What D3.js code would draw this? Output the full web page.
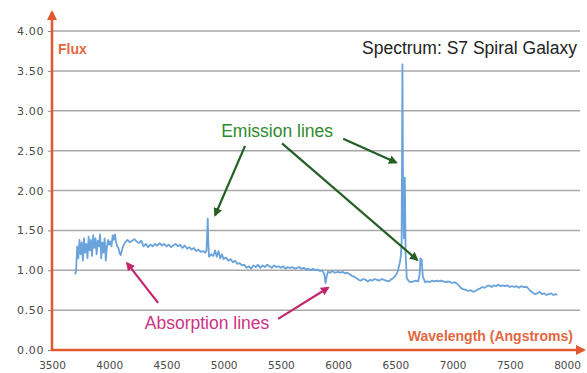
<!DOCTYPE html>
<html>
<head>
<meta charset="utf-8">
<script src="https://cdn.jsdelivr.net/npm/d3@7"></script>
<style>
  html, body { margin: 0; padding: 0; background: #fff; }
  svg { display: block; }
</style>
</head>
<body>
<div id="chart"></div>
<script>
// Spectrum samples (wavelength in Angstroms, flux)
const wavelengths = [
  3700, 3710, 3720, 3730, 3740, 3750, 3760, 3770, 3780, 3790,
  3800, 3810, 3820, 3830, 3840, 3850, 3860, 3870, 3880, 3890,
  3900, 3910, 3920, 3930, 3940, 3950, 3960, 3970, 3980, 3990,
  4000, 4010, 4020, 4030, 4040, 4050, 4060, 4070, 4080, 4090,
  4100, 4110, 4120, 4140, 4160, 4180, 4200, 4220, 4240, 4260,
  4280, 4300, 4320, 4340, 4360, 4380, 4400, 4420, 4440, 4460,
  4480, 4500, 4520, 4540, 4560, 4580, 4600, 4620, 4640, 4660,
  4680, 4700, 4720, 4740, 4760, 4780, 4800, 4820, 4840, 4850,
  4856, 4861, 4866, 4872, 4890, 4910, 4925, 4940, 4955, 4970,
  4985, 5000, 5020, 5040, 5060, 5080, 5100, 5120, 5140, 5160,
  5180, 5200, 5220, 5240, 5260, 5280, 5300, 5320, 5340, 5360,
  5380, 5400, 5420, 5440, 5460, 5480, 5500, 5520, 5540, 5560,
  5580, 5600, 5620, 5640, 5660, 5680, 5700, 5720, 5740, 5760,
  5780, 5800, 5820, 5840, 5860, 5880, 5890, 5900, 5910, 5930,
  5950, 5970, 6000, 6020, 6040, 6060, 6080, 6100, 6120, 6140,
  6160, 6180, 6200, 6220, 6240, 6260, 6280, 6300, 6320, 6340,
  6360, 6380, 6400, 6420, 6440, 6460, 6480, 6500, 6520, 6540,
  6548, 6555, 6562, 6568, 6575, 6583, 6590, 6600, 6620, 6640,
  6660, 6680, 6700, 6712, 6720, 6730, 6740, 6760, 6780, 6800,
  6820, 6840, 6860, 6880, 6900, 6920, 6940, 6960, 6980, 7000,
  7020, 7040, 7060, 7080, 7100, 7120, 7140, 7160, 7180, 7200,
  7220, 7240, 7260, 7280, 7300, 7320, 7340, 7360, 7380, 7400,
  7420, 7440, 7460, 7480, 7500, 7520, 7540, 7560, 7580, 7600,
  7620, 7650, 7680, 7700, 7720, 7740, 7760, 7780, 7800, 7820,
  7840, 7860, 7880, 7900, 7915
];

const fluxValues = [
  0.95, 0.98, 1.30, 1.15, 1.38, 1.20, 1.35, 1.12, 1.40, 1.22,
  1.33, 1.15, 1.42, 1.25, 1.38, 1.18, 1.44, 1.28, 1.40, 1.20,
  1.37, 1.30, 1.45, 1.15, 1.35, 1.22, 1.40, 1.12, 1.30, 1.38,
  1.32, 1.36, 1.30, 1.44, 1.38, 1.45, 1.35, 1.30, 1.28, 1.22,
  1.19, 1.24, 1.30, 1.35, 1.38, 1.35, 1.37, 1.39, 1.36, 1.34,
  1.37, 1.30, 1.33, 1.29, 1.32, 1.30, 1.33, 1.31, 1.34, 1.31,
  1.33, 1.30, 1.32, 1.29, 1.31, 1.33, 1.30, 1.32, 1.28, 1.31,
  1.27, 1.29, 1.26, 1.28, 1.24, 1.26, 1.23, 1.24, 1.22, 1.25,
  1.45, 1.65, 1.35, 1.17, 1.20, 1.18, 1.25, 1.17, 1.24, 1.15,
  1.20, 1.14, 1.16, 1.12, 1.14, 1.10, 1.12, 1.08, 1.09, 1.06,
  1.07, 1.03, 1.05, 1.02, 1.06, 1.04, 1.07, 1.03, 1.06, 1.04,
  1.07, 1.05, 1.03, 1.06, 1.04, 1.05, 1.03, 1.05, 1.02, 1.04,
  1.03, 1.04, 1.02, 1.03, 1.04, 1.02, 1.03, 1.01, 1.02, 1.00,
  1.02, 1.00, 1.01, 0.99, 1.00, 0.95, 0.84, 0.92, 0.98, 0.97,
  0.99, 0.97, 0.98, 0.97, 0.98, 0.96, 0.97, 0.95, 0.93, 0.92,
  0.90, 0.88, 0.87, 0.89, 0.88, 0.86, 0.88, 0.87, 0.89, 0.88,
  0.87, 0.89, 0.88, 0.87, 0.86, 0.88, 0.90, 0.93, 0.98, 1.10,
  1.18, 1.35, 3.58, 1.80, 1.40, 2.16, 1.20, 0.90, 0.86, 0.85,
  0.86, 0.87, 0.86, 0.95, 1.15, 1.13, 0.92, 0.85, 0.86, 0.85,
  0.87, 0.86, 0.87, 0.86, 0.87, 0.86, 0.85, 0.86, 0.85, 0.84,
  0.85, 0.83, 0.80, 0.77, 0.76, 0.75, 0.74, 0.75, 0.73, 0.74,
  0.76, 0.77, 0.79, 0.78, 0.80, 0.81, 0.79, 0.81, 0.80, 0.82,
  0.80, 0.81, 0.80, 0.81, 0.79, 0.80, 0.79, 0.80, 0.78, 0.80,
  0.79, 0.79, 0.74, 0.72, 0.70, 0.71, 0.73, 0.70, 0.71, 0.69,
  0.70, 0.71, 0.69, 0.70, 0.69
];

const xTicks = [3500, 4000, 4500, 5000, 5500, 6000, 6500, 7000, 7500, 8000];
const yTicks = [0, 0.5, 1, 1.5, 2, 2.5, 3, 3.5, 4];

// Annotation arrows, in data coordinates: [fromWavelength, fromFlux, toWavelength, toFlux]
const emissionArrows = [
  [5187, 2.56, 4925, 1.69],
  [6044, 2.65, 6507, 2.35],
  [5510, 2.59, 6691, 1.13]
];
const absorptionArrows = [
  [4427, 0.59, 4156, 1.09],
  [5476, 0.39, 5913, 0.78]
];

const width = 587, height = 373;
const left = 52, gridRight = 580;

const svg = d3.select('#chart')
  .append('svg')
  .attr('width', width)
  .attr('height', height);

const x = d3.scaleLinear().domain([3500, 8000]).range([left, 567]);
const y = d3.scaleLinear().domain([0, 4]).range([350, 31]);

const axisColor = '#e0582e';

// Arrow markers
const defs = svg.append('defs');
function marker(id, color) {
  defs.append('marker')
    .attr('id', id)
    .attr('viewBox', '0 0 10 10')
    .attr('refX', 8).attr('refY', 5)
    .attr('markerWidth', 4).attr('markerHeight', 4)
    .attr('markerUnits', 'strokeWidth')
    .attr('orient', 'auto')
    .append('path')
    .attr('d', 'M0,0 L10,5 L0,10 Z')
    .attr('fill', color);
}
marker('greenHead', '#245f24');
marker('pinkHead', '#c4256e');
marker('axisHead', axisColor);

// Grid lines
svg.append('g')
  .selectAll('line')
  .data(yTicks.filter(d => d > 0))
  .enter().append('line')
  .attr('x1', left).attr('x2', gridRight)
  .attr('y1', d => y(d)).attr('y2', d => y(d))
  .attr('stroke', '#a8a8a8')
  .attr('stroke-width', 1.5);

// Y axis labels + small ticks
const yAxis = svg.append('g')
  .attr('transform', `translate(${left},0)`)
  .call(d3.axisLeft(y).tickValues(yTicks).tickFormat(d3.format('.2f')).tickSize(4).tickPadding(4));
yAxis.select('.domain').remove();
yAxis.selectAll('line').attr('stroke', '#888');
yAxis.selectAll('text')
  .style('fill', '#4a4a4a')
  .style('font-family', 'DejaVu Sans, sans-serif')
  .style('font-size', '11px')
  .style('letter-spacing', '0.6px');

// X axis labels
const xAxis = svg.append('g')
  .attr('transform', `translate(0,${y(0)})`)
  .call(d3.axisBottom(x).tickValues(xTicks).tickFormat(d3.format('d')).tickSize(0).tickPadding(12));
xAxis.select('.domain').remove();
xAxis.selectAll('text')
  .style('fill', '#4a4a4a')
  .style('font-family', 'DejaVu Sans, sans-serif')
  .style('font-size', '10.5px');

// Spectrum line
const points = wavelengths.map((w, i) => [w, fluxValues[i]]);
svg.append('path')
  .datum(points)
  .attr('fill', 'none')
  .attr('stroke', '#6aa3dc')
  .attr('stroke-width', 1.8)
  .attr('stroke-linejoin', 'round')
  .attr('d', d3.line().x(d => x(d[0])).y(d => y(d[1])));

// Orange axes with arrows
svg.append('line')
  .attr('x1', left).attr('x2', left)
  .attr('y1', y(0) + 1).attr('y2', 12)
  .attr('stroke', axisColor).attr('stroke-width', 2.5)
  .attr('marker-end', 'url(#axisHead)');
svg.append('line')
  .attr('x1', left - 1).attr('x2', 584)
  .attr('y1', y(0)).attr('y2', y(0))
  .attr('stroke', axisColor).attr('stroke-width', 2.5)
  .attr('marker-end', 'url(#axisHead)');

// Axis titles
svg.append('text')
  .attr('x', left + 6).attr('y', y(3.77) + 5)
  .text('Flux')
  .style('fill', '#e2683f')
  .style('font-family', 'Liberation Sans, Arial, sans-serif')
  .style('font-weight', 'bold')
  .style('font-size', '14px');

svg.append('text')
  .attr('x', 573).attr('y', y(0.18) + 5)
  .attr('text-anchor', 'end')
  .text('Wavelength (Angstroms)')
  .style('fill', '#e2683f')
  .style('font-family', 'Liberation Sans, Arial, sans-serif')
  .style('font-weight', 'bold')
  .style('font-size', '14px');

// Chart title
svg.append('text')
  .attr('x', 577).attr('y', 54)
  .attr('text-anchor', 'end')
  .text('Spectrum: S7 Spiral Galaxy')
  .style('fill', '#222')
  .style('font-family', 'Liberation Sans, Arial, sans-serif')
  .style('font-size', '17.5px');

// Annotations
svg.append('text')
  .attr('x', x(5467)).attr('y', y(2.74) + 6)
  .attr('text-anchor', 'middle')
  .text('Emission lines')
  .style('fill', '#2f8a2f')
  .style('font-family', 'Liberation Sans, Arial, sans-serif')
  .style('font-size', '17.5px');

svg.append('text')
  .attr('x', x(4855)).attr('y', y(0.34) + 6)
  .attr('text-anchor', 'middle')
  .text('Absorption lines')
  .style('fill', '#cc3383')
  .style('font-family', 'Liberation Sans, Arial, sans-serif')
  .style('font-size', '17.5px');

svg.append('g')
  .selectAll('line')
  .data(emissionArrows)
  .enter().append('line')
  .attr('x1', d => x(d[0])).attr('y1', d => y(d[1]))
  .attr('x2', d => x(d[2])).attr('y2', d => y(d[3]))
  .attr('stroke', '#245f24').attr('stroke-width', 2.2)
  .attr('marker-end', 'url(#greenHead)');

svg.append('g')
  .selectAll('line')
  .data(absorptionArrows)
  .enter().append('line')
  .attr('x1', d => x(d[0])).attr('y1', d => y(d[1]))
  .attr('x2', d => x(d[2])).attr('y2', d => y(d[3]))
  .attr('stroke', '#c4256e').attr('stroke-width', 2.2)
  .attr('marker-end', 'url(#pinkHead)');
</script>
</body>
</html>
